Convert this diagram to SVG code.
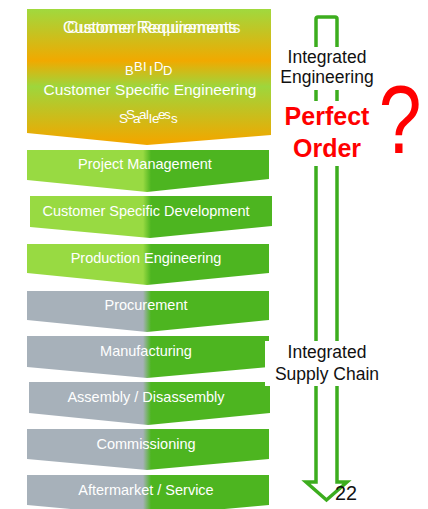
<svg xmlns="http://www.w3.org/2000/svg" width="428" height="509" viewBox="0 0 428 509">
  <defs>
    <linearGradient id="topGrad" x1="0" y1="9" x2="0" y2="145" gradientUnits="userSpaceOnUse">
      <stop offset="0" stop-color="#a0d93e"/>
      <stop offset="0.38" stop-color="#f1a900"/>
      <stop offset="0.57" stop-color="#9ed63c"/>
      <stop offset="0.97" stop-color="#f0a800"/>
    </linearGradient>
    <linearGradient id="greenGrad" x1="143" y1="0" x2="151" y2="0" gradientUnits="userSpaceOnUse">
      <stop offset="0" stop-color="#98da42"/>
      <stop offset="1" stop-color="#4db520"/>
    </linearGradient>
    <linearGradient id="grayGrad" x1="143" y1="0" x2="151" y2="0" gradientUnits="userSpaceOnUse">
      <stop offset="0" stop-color="#a7b1ba"/>
      <stop offset="1" stop-color="#4db520"/>
    </linearGradient>
    <style>
      .lbl { font-family: "Liberation Sans", Arial, sans-serif; font-size: 14.5px; fill: #ffffff; text-anchor: middle; }
      .top { font-family: "Liberation Sans", Arial, sans-serif; fill: #ffffff; }
      .blk { font-family: "Liberation Sans", Arial, sans-serif; font-size: 17.5px; fill: #111111; text-anchor: middle; }
      .red { font-family: "Liberation Sans", Arial, sans-serif; font-weight: bold; font-size: 25px; fill: #ff0000; text-anchor: middle; }
      .g { fill: url(#greenGrad); }
      .s { fill: url(#grayGrad); }
    </style>
  </defs>
  <rect width="428" height="509" fill="#ffffff"/>

  <g id="customer-requirements">
    <path d="M27,9 H271 V135 L147,145 L27,133 Z" fill="url(#topGrad)"/>
    <text class="top" font-size="16"><tspan x="63" y="33">Customer Requirements</tspan><tspan x="67" y="33" fill-opacity="0.9">Customer Requirements</tspan></text>
    <text class="top" font-size="13"><tspan x="125" y="75">B</tspan><tspan x="134" y="71">B</tspan><tspan x="143" y="71">I</tspan><tspan x="149" y="75">I</tspan><tspan x="154" y="71">D</tspan><tspan x="163" y="75">D</tspan></text>
    <text class="top" x="150" y="95" font-size="15.5" text-anchor="middle">Customer Specific Engineering</text>
    <text class="top" font-size="13.5"><tspan x="119" y="123">S</tspan><tspan x="126" y="119">S</tspan><tspan x="133" y="123">a</tspan><tspan x="139" y="119">a</tspan><tspan x="146" y="119">l</tspan><tspan x="149" y="123">l</tspan><tspan x="152" y="123">e</tspan><tspan x="158" y="119">e</tspan><tspan x="164" y="119">s</tspan><tspan x="171" y="123">s</tspan></text>
  </g>

  <g id="project-management">
    <path class="g" d="M27,150 H269 V179 L147,192 L27,180 Z"/>
    <text class="lbl" x="145" y="169">Project Management</text>
  </g>
  <g id="customer-specific-development">
    <path class="g" d="M30,196 H272 V226 L150,238 L30,227 Z"/>
    <text class="lbl" x="146" y="216">Customer Specific Development</text>
  </g>
  <g id="production-engineering">
    <path class="g" d="M27,244 H269 V273 L147,285 L27,273 Z"/>
    <text class="lbl" x="146" y="263">Production Engineering</text>
  </g>
  <g id="procurement">
    <path class="s" d="M27,291 H269 V320 L147,332 L27,320 Z"/>
    <text class="lbl" x="146" y="310">Procurement</text>
  </g>
  <g id="manufacturing">
    <path class="s" d="M27,336 H269 V367 L147,378 L27,367 Z"/>
    <text class="lbl" x="146" y="356">Manufacturing</text>
  </g>
  <g id="assembly">
    <path class="s" d="M29,382 H270 V413 L148,425 L29,413 Z"/>
    <text class="lbl" x="146" y="402">Assembly / Disassembly</text>
  </g>
  <g id="commissioning">
    <path class="s" d="M27,429 H269 V459 L147,470 L27,459 Z"/>
    <text class="lbl" x="146" y="449">Commissioning</text>
  </g>
  <g id="aftermarket">
    <path class="s" d="M27,475 H269 V505 L147,516 L27,505 Z"/>
    <text class="lbl" x="146" y="495">Aftermarket / Service</text>
  </g>

  <g id="connectors">
    <path d="M316,482 V19 Q316,17 318,17 H335 Q337,17 337,19 V482 H347 L326.5,500 L306,482 Z" fill="none" stroke="#3cad1e" stroke-width="3.5" stroke-linejoin="miter"/>
  </g>

  <g id="integrated-engineering">
    <rect x="279" y="47" width="98" height="43" fill="#ffffff"/>
    <text class="blk" x="327" y="63">Integrated</text>
    <text class="blk" x="327" y="83">Engineering</text>
  </g>
  <g id="perfect-order">
    <rect x="279" y="101" width="98" height="65" fill="#ffffff"/>
    <text class="red" x="327" y="125">Perfect</text>
    <text class="red" x="327" y="157">Order</text>
    <text transform="translate(400,153) scale(0.8,1)" font-family="Liberation Sans, Arial, sans-serif" font-size="96" fill="#ff0000" text-anchor="middle">?</text>
  </g>
  <g id="integrated-supply-chain">
    <rect x="265" y="341" width="122" height="45" fill="#ffffff"/>
    <text class="blk" x="327" y="358">Integrated</text>
    <text class="blk" x="327" y="380">Supply Chain</text>
  </g>
  <text x="335" y="500" font-family="Liberation Sans, Arial, sans-serif" font-size="20" fill="#111111" textLength="22" lengthAdjust="spacingAndGlyphs">22</text>
</svg>
